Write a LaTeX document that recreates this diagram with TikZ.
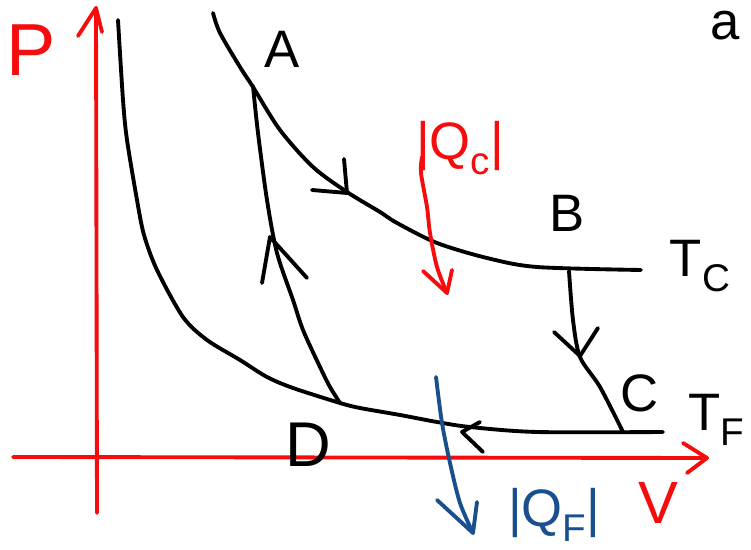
\documentclass[tikz,border=0pt]{standalone}
\usepackage{fontspec}
\setmainfont{Liberation Sans}
\definecolor{qred}{RGB}{245,12,12}
\definecolor{qblue}{RGB}{26,79,142}
\newcommand{\lowidx}[1]{\raisebox{-0.55ex}{\fontsize{22}{22}\selectfont #1}}
\tikzset{ink/.style={line width=2.2pt,line cap=round,line join=round},
	lbl/.style={inner sep=0pt,font=\fontsize{30}{30}\selectfont}}

\begin{document}
\begin{tikzpicture}[x=0.02cm,y=-0.02cm]
	\useasboundingbox (0,0) rectangle (751,550);
	% axes
	\draw[ink,qred] (97,513)--(96,8);
	\draw[ink,qred] (78,36)--(96,8)--(102,32);
	\draw[ink,qred] (13,457)--(707,458);
	\draw[ink,qred] (683,443)--(707,458)--(687,473);
	\node[lbl,qred,font=\fontsize{42}{42}\selectfont] (p) at (31,50) {P};
	\node[lbl,qred,font=\fontsize{34}{34}\selectfont] (v) at (658,503) {V};
	% isotherms T_F and T_C
	\draw[ink] plot[smooth] coordinates {(118,20) (123,100) (127,140) (137,200) (144,235) (157,270) (183,317) (207,340) (240,360) (267,377) (293,388) (340,403) (360,408) (400,415) (437,422) (470,427) (537,432) (663,432)};
	\draw[ink] plot[smooth] coordinates {(213,13) (220,33) (240,67) (253,87) (280,130) (313,167) (347,192) (380,212) (397,223) (437,243) (487,258) (537,267) (641,270)};
	% adiabats
	\draw[ink] plot[smooth] coordinates {(253,86) (258,133) (267,200) (277,253) (293,300) (303,330) (320,367) (330,387) (340,403)};
	\draw[ink] plot[smooth] coordinates {(569,271) (573,320) (580,357) (600,387) (623,432)};
	% arrows on the cycle
	\draw[ink] (344,159)--(347,193)--(312,190);
	\draw[ink] (554,332)--(580,356)--(598,328);
	\draw[ink] (480,422)--(462,432)--(483,452);
	\draw[ink] (262,283)--(270,237)--(307,278);
	% heat flows
	\draw[ink,qred] plot[smooth] coordinates {(422,157) (421,173) (427,207) (430,233) (437,267) (447,293)};
	\draw[ink,qred] (423,271)--(447,293)--(452,270);
	\draw[ink,qblue] plot[smooth] coordinates {(436,377) (442,423) (450,463) (460,503) (473,533)};
	\draw[ink,qblue] (437,500)--(473,533)--(477,502);
	% labels
	\node[lbl] (a) at (282,49) {A};
	\node[lbl] (b) at (567,213) {B};
	\node[lbl] (c) at (640,393) {C};
	\node[lbl,font=\fontsize{36}{36}\selectfont] (d) at (308,445) {D};
	\node[lbl] (tc) at (700,266) {T\lowidx{C}};
	\node[lbl] (tf) at (716,420) {T\lowidx{F}};
	\node[lbl] (fig) at (725,26) {a};
	\node[lbl,qred] (qc) at (460,148) {|Q\lowidx{c}|};
	\node[lbl,qblue] (qf) at (554,515) {|Q\lowidx{F}|};
\end{tikzpicture}
\end{document}
